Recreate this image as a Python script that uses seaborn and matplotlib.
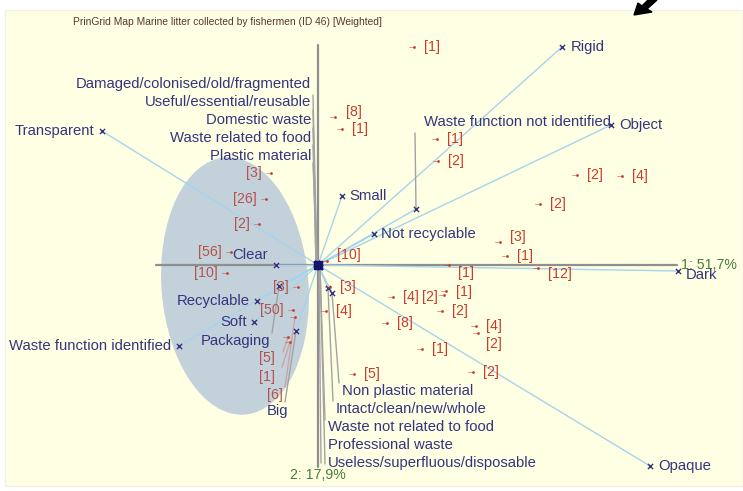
import matplotlib
matplotlib.use("Agg")
import matplotlib.pyplot as plt
from matplotlib.patches import Ellipse, Polygon, Rectangle
import pandas as pd
import seaborn as sns

sns.set_theme(style="white")
plt.rcParams["font.family"] = ["Liberation Sans", "DejaVu Sans"]

title = "PrinGrid Map Marine litter collected by fishermen (ID 46) [Weighted]"
axis1_label = "1: 51,7%"
axis2_label = "2: 17,9%"

# Construct poles (component scores on axes 1 and 2)
pole_names = [
    "Rigid", "Object", "Dark", "Opaque", "Transparent",
    "Waste function identified", "Small", "Not recyclable", "Clear",
    "Recyclable", "Soft", "Packaging", "Big", "Waste function not identified",
    "Damaged/colonised/old/fragmented", "Useful/essential/reusable",
    "Domestic waste", "Waste related to food", "Plastic material",
    "Non plastic material", "Intact/clean/new/whole",
    "Waste not related to food", "Professional waste",
    "Useless/superfluous/disposable",
]
pole_x = [2.44, 2.93, 3.60, 3.32, -2.16, -1.39, 0.24, 0.56, -0.42,
          -0.61, -0.64, -0.39, -0.22, 0.98,
          -0.01, -0.02, -0.01, -0.02, -0.01,
          0.14, 0.10, 0.02, 0.01, 0.02]
pole_y = [2.18, 1.40, -0.06, -2.01, 1.34, -0.81, 0.69, 0.31, 0.00,
          -0.36, -0.57, -0.21, -0.66, 0.56,
          0.02, 0.01, 0.02, 0.01, 0.02,
          -0.28, -0.23, -0.02, -0.01, -0.02]

# Elements: weights and their positions on the map
element_counts = [1, 8, 1, 1, 2, 2, 4, 2, 3, 1, 10, 1, 12, 3, 4, 4, 2, 1,
                  2, 4, 2, 8, 1, 5, 2,
                  3, 26, 2, 56, 10, 3, 50, 6, 5, 1]
element_x = [0.96, 0.17, 0.24, 1.19, 1.20, 2.59, 3.04, 2.22, 1.82, 1.89,
             0.09, 1.31, 2.20, 0.12, 0.08, 0.75, 1.26, 1.28, 1.24, 1.58,
             1.60, 0.69, 1.04, 0.36, 1.55,
             -0.47, -0.52, -0.59, -0.87, -0.91, -0.20, -0.25, -0.23, -0.30,
             -0.28]
element_y = [2.18, 1.48, 1.36, 1.26, 1.04, 0.90, 0.89, 0.61, 0.23, 0.09,
             0.04, 0.00, -0.03, -0.22, -0.46, -0.32, -0.30, -0.26, -0.46,
             -0.61, -0.68, -0.58, -0.84, -1.09, -1.07,
             0.92, 0.66, 0.41, 0.13, -0.08, -0.22, -0.45, -0.52, -0.72,
             -0.77]

# ---------------------------------------------------------------- layout ---
W, H = 743, 491
NAVY = "#35357f"
RED = "#cc3b2c"
RED_SOFT = "#b4524e"
POLE_LINE = "#a6d4ec"
AXIS = "#8f8f8f"
LEADER = "#a3a3a3"
GREEN = "#4c7a3c"
PANEL = "#ffffe3"

# label placement for poles: ("near", dx_px, dy_px, ha) or ("far", x, y, ha)
pole_layout = {
    "Rigid": ("near", 9, 0, "left"),
    "Object": ("near", 8, 0, "left"),
    "Dark": ("near", 8, -4, "left"),
    "Opaque": ("near", 8, 0, "left"),
    "Transparent": ("near", -8, 0, "right"),
    "Waste function identified": ("near", -8, 0, "right"),
    "Small": ("near", 7, 0, "left"),
    "Not recyclable": ("near", 7, 0, "left"),
    "Clear": ("near", -8, 10, "right"),
    "Recyclable": ("near", -7, 0, "right"),
    "Soft": ("near", -7, 0, "right"),
    "Packaging": ("far", -0.48, -0.76, "right"),
    "Big": ("far", -0.40, -1.46, "center"),
    "Waste function not identified": ("far", 1.06, 1.43, "left"),
    "Damaged/colonised/old/fragmented": ("far", -0.07, 1.81, "right"),
    "Useful/essential/reusable": ("far", -0.07, 1.63, "right"),
    "Domestic waste": ("far", -0.07, 1.45, "right"),
    "Waste related to food": ("far", -0.07, 1.27, "right"),
    "Plastic material": ("far", -0.07, 1.09, "right"),
    "Non plastic material": ("far", 0.24, -1.26, "left"),
    "Intact/clean/new/whole": ("far", 0.18, -1.44, "left"),
    "Waste not related to food": ("far", 0.10, -1.62, "left"),
    "Professional waste": ("far", 0.10, -1.80, "left"),
    "Useless/superfluous/disposable": ("far", 0.10, -1.98, "left"),
}
# leader end points for labels placed away from their pole
pole_leader = {
    "Packaging": (-0.46, -0.68),
    "Big": (-0.33, -1.37),
    "Waste function not identified": (0.97, 1.32),
    "Damaged/colonised/old/fragmented": (-0.05, 1.70),
    "Useful/essential/reusable": (-0.05, 1.55),
    "Domestic waste": (-0.05, 1.37),
    "Waste related to food": (-0.05, 1.20),
    "Plastic material": (-0.05, 1.02),
    "Non plastic material": (0.21, -1.18),
    "Intact/clean/new/whole": (0.15, -1.36),
    "Waste not related to food": (0.07, -1.55),
    "Professional waste": (0.03, -1.98),
    "Useless/superfluous/disposable": (0.07, -1.99),
}

# element label placement: (dx_px, dy_px, ha) or far label position
elem_layout = (
    [(10, 0, "left")] * 25
)
elem_layout[1] = (11, 5, "left")
elem_layout[8] = (10, 5, "left")
elem_layout[10] = (10, 6, "left")
elem_layout[11] = (9, -8, "left")
elem_layout[12] = (10, -6, "left")
elem_layout[16] = (-6, -2, "right")
elem_layout[17] = (10, -1, "left")
elem_layout[20] = (8, -11, "left")
elem_layout += [(-9, 0, "right")] * 7
elem_far = {32: (-0.35, -1.30), 33: (-0.43, -0.93), 34: (-0.43, -1.12)}
elem_leader = {32: (-0.33, -1.22), 33: (-0.35, -0.87), 34: (-0.36, -1.02)}

# ---------------------------------------------------------------- figure ---
fig = plt.figure(figsize=(W / 100, H / 100), dpi=100)
fig.patch.set_facecolor("white")

bg = fig.add_axes([0, 0, 1, 1])
bg.set_xlim(0, W)
bg.set_ylim(H, 0)
bg.axis("off")
bg.add_patch(Rectangle((5, 10), 738, 476, facecolor=PANEL, edgecolor="#f0f0e8", lw=1))
bg.add_patch(Polygon([(634, 15), (638, 3), (642, 6), (648, 0), (657, 0),
                      (647, 9), (652, 12)], closed=True, color="black"))

ax = fig.add_axes([5 / W, 5 / H, 738 / W, 476 / H])
ax.set_facecolor("none")
ax.set_xlim((5 - 318) / 100, (743 - 318) / 100)
ax.set_ylim((265 - 486) / 100, (265 - 10) / 100)
ax.axis("off")

ax.add_patch(Ellipse((-0.83, -0.21), 1.47, 2.58, angle=4.4,
                     facecolor="#c3d1db", edgecolor="none", zorder=1))

# principal axes
ax.plot([-1.62, 3.59], [0, 0], color=AXIS, lw=1.6, zorder=2)
ax.plot([0, 0], [2.20, -2.02], color=AXIS, lw=1.6, zorder=2)
ax.text(3.63, 0.0, axis1_label, color=GREEN, fontsize=10.2, ha="left", va="center", zorder=6)
ax.text(0.0, -2.10, axis2_label, color=GREEN, fontsize=10.2, ha="center", va="center", zorder=6)

# vectors from the origin to each pole
for px_, py_ in zip(pole_x, pole_y):
    ax.plot([0, px_], [0, py_], color=POLE_LINE, lw=1.0, zorder=3)

poles = pd.DataFrame({"name": pole_names, "x": pole_x, "y": pole_y})
elements = pd.DataFrame({"count": element_counts, "x": element_x, "y": element_y})

sns.scatterplot(data=poles, x="x", y="y", marker="x", color=NAVY, s=14,
                linewidth=1.0, ax=ax, zorder=5, legend=False)
sns.scatterplot(data=elements, x="x", y="y", marker="o", color=RED, s=4,
                linewidth=0, ax=ax, zorder=5, legend=False)
ax.set_xlabel("")
ax.set_ylabel("")

ax.scatter([0], [0], marker="s", s=26, color="#14146e", zorder=7)

for name, x, y in zip(pole_names, pole_x, pole_y):
    lay = pole_layout[name]
    if lay[0] == "near":
        ax.annotate(name, (x, y), xytext=(lay[1], lay[2]), textcoords="offset pixels",
                    ha=lay[3], va="center", color=NAVY, fontsize=10.7, zorder=6)
    else:
        lx, ly = pole_leader[name]
        ax.plot([lx, x], [ly, y], color=LEADER, lw=1.0, zorder=4)
        ax.text(lay[1], lay[2], name, ha=lay[3], va="center", color=NAVY,
                fontsize=10.7, zorder=6)

for i, (c, x, y) in enumerate(zip(element_counts, element_x, element_y)):
    label = f"[{c}]"
    col = RED_SOFT if x < 0 else RED
    ax.plot([x - 0.05, x - 0.01], [y, y], color=col, lw=0.6, alpha=0.6, zorder=5)
    if i in elem_far:
        lx, ly = elem_leader[i]
        ax.plot([lx, x], [ly, y], color="#c9a5a5", lw=1.0, zorder=4)
        fx, fy = elem_far[i]
        ax.text(fx, fy, label, ha="right", va="center", color=col, fontsize=10.2, zorder=6)
    else:
        dx, dy, ha = elem_layout[i]
        ax.annotate(label, (x, y), xytext=(dx, dy), textcoords="offset pixels",
                    ha=ha, va="center", color=col, fontsize=10.2, zorder=6)

bg.text(73, 22, title, ha="left", va="center", color="#5a3630", fontsize=7.4)

fig.savefig("out.png", dpi=100, facecolor="white")
